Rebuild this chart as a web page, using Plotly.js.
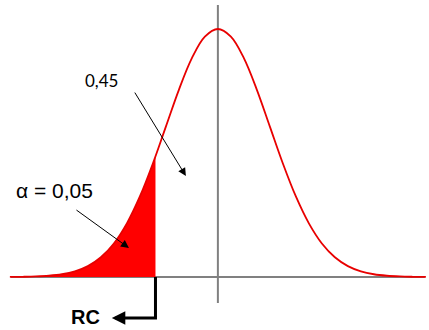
<!DOCTYPE html>
<html>
<head>
<meta charset="utf-8">
<script src="https://cdn.plot.ly/plotly-3.0.1.min.js"></script>
<style>html,body{margin:0;padding:0;background:#fff;}#chart{width:429px;height:330px;}</style>
</head>
<body>
<div id="chart"></div>
<script>
// z values and relative curve heights (peak = 1)
const curveX = [-4,-3.75,-3.5,-3.25,-3,-2.75,-2.5,-2.25,-2,-1.75,-1.5,-1.25,-1,-0.75,-0.5,-0.25,0,0.25,0.5,0.75,1,1.25,1.5,1.75,2,2.25,2.5,2.75,3,3.25,3.5,3.75,4];
const curveY = [0.0003,0.0009,0.0022,0.0051,0.0111,0.0228,0.0439,0.0796,0.1353,0.2163,0.3247,0.4578,0.6065,0.7548,0.8825,0.9692,1,0.9692,0.8825,0.7548,0.6065,0.4578,0.3247,0.2163,0.1353,0.0796,0.0439,0.0228,0.0111,0.0051,0.0022,0.0009,0.0003];
// rejection region (left tail) up to the critical value
const tailX = [-4,-3.75,-3.5,-3.25,-3,-2.75,-2.5,-2.25,-2,-1.75,-1.5,-1.25,-1.2];
const tailY = [0.0003,0.0009,0.0022,0.0051,0.0111,0.0228,0.0439,0.0796,0.1353,0.2163,0.3247,0.4578,0.4868];
const critical = -1.2;
const labelCentral = "0,45";
const labelAlpha = "α = 0,05";
const labelRC = "RC";

const traces = [
  {x: tailX, y: tailY, type: 'scatter', mode: 'lines', line: {color: 'red', width: 0, shape: 'spline'},
   fill: 'tozeroy', fillcolor: '#ff0000', hoverinfo: 'skip'},
  {x: curveX, y: curveY, type: 'scatter', mode: 'lines', line: {color: '#e80000', width: 1.8, shape: 'spline'}, hoverinfo: 'skip'}
];

const layout = {
  width: 429, height: 330,
  margin: {l: 0, r: 0, t: 0, b: 0, pad: 0},
  paper_bgcolor: '#ffffff', plot_bgcolor: '#ffffff',
  showlegend: false,
  xaxis: {range: [-4.19, 4.06], visible: false, fixedrange: true},
  yaxis: {range: [-0.2137, 1.117], visible: false, fixedrange: true},
  shapes: [
    {type: 'line', xref: 'x', yref: 'y', x0: -3.98, x1: 3.98, y0: 0, y1: 0, line: {color: '#808080', width: 2}, layer: 'below'},
    {type: 'line', xref: 'x', yref: 'y', x0: 0, x1: 0, y0: -0.105, y1: 1.097, line: {color: '#808080', width: 2}, layer: 'below'},
    {type: 'path', xref: 'x', yref: 'y', path: 'M ' + critical + ' 0 L ' + critical + ' -0.165 L -1.85 -0.165', line: {color: '#000', width: 3}}
  ],
  annotations: [
    {xref: 'paper', yref: 'paper', x: 101/429, y: 1 - 80/330, text: labelCentral, showarrow: false,
     font: {family: 'Lato, "Open Sans", sans-serif', size: 17, color: '#000'}, xanchor: 'center', yanchor: 'middle'},
    {xref: 'paper', yref: 'paper', x: 55/429, y: 1 - 191/330, text: labelAlpha, showarrow: false,
     font: {family: '"Liberation Sans", Arial, sans-serif', size: 21, color: '#000'}, xanchor: 'center', yanchor: 'middle'},
    {xref: 'paper', yref: 'paper', x: 85/429, y: 1 - 317/330, text: '<b>' + labelRC + '</b>', showarrow: false,
     font: {family: '"Liberation Sans", Arial, sans-serif', size: 20, color: '#000'}, xanchor: 'center', yanchor: 'middle'},
    {xref: 'x', yref: 'y', x: -0.615, y: 0.407, ax: -52, ay: -85, text: '', showarrow: true,
     arrowhead: 2, arrowsize: 1.6, arrowwidth: 1, arrowcolor: '#000', standoff: 0},
    {xref: 'x', yref: 'y', x: -1.71, y: 0.117, ax: -54, ay: -39, text: '', showarrow: true,
     arrowhead: 2, arrowsize: 1.6, arrowwidth: 1, arrowcolor: '#000', standoff: 0},
    {xref: 'x', yref: 'y', x: -2.04, y: -0.165, ax: 14, ay: 0, text: '', showarrow: true,
     arrowhead: 2, arrowsize: 0.9, arrowwidth: 3, arrowcolor: '#000', standoff: 0}
  ]
};

Plotly.newPlot('chart', traces, layout, {staticPlot: true, displayModeBar: false});
</script>
</body>
</html>
